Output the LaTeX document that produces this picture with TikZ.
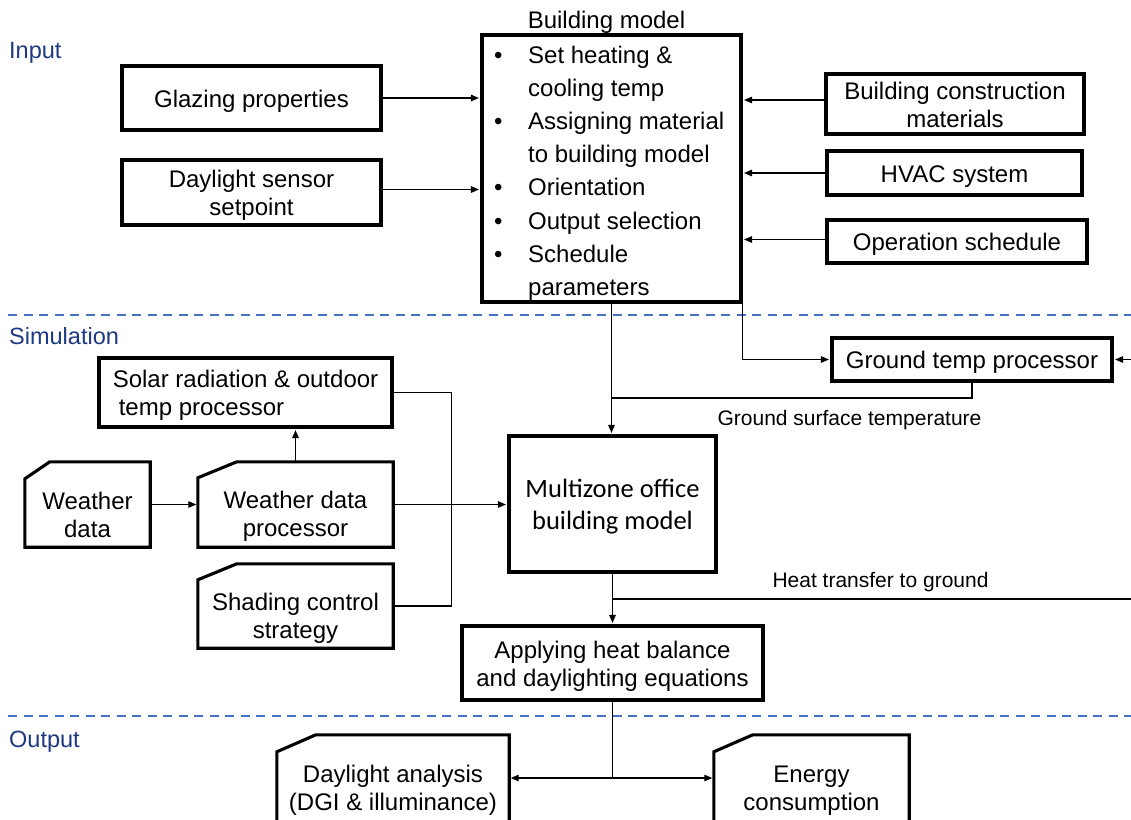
\documentclass[tikz,border=0pt]{standalone}
\usepackage{fontspec}
\setmainfont{Liberation Sans}
\newfontfamily\calibrifont{Carlito}
\usetikzlibrary{arrows.meta,calc}
\definecolor{secblue}{RGB}{31,56,130}
\definecolor{dashblue}{RGB}{68,114,196}
\newcommand{\bmbullet}{\llap{\makebox[34pt][l]{•}}}
\newcommand{\boxlines}[2][c]{\raisebox{-3.5pt}[\height][\depth]{\begin{tabular}{@{}#1@{}}#2\end{tabular}}}
\tikzset{
  bodytext/.style={inner sep=0pt, align=center, font=\fontsize{24}{28}\selectfont},
  box/.style={bodytext, draw, line width=3.1pt},
  docnode/.style={inner sep=0pt},
  docline/.style={line width=3.1pt, line join=miter},
  conn/.style={line width=1.3pt},
  arr/.style={conn, -{Triangle[length=8pt,width=6.5pt]}, shorten >=1.5pt},
  seclabel/.style={anchor=base west, inner sep=0pt, text=secblue, font=\fontsize{23.5}{28}\selectfont},
  flowlabel/.style={anchor=base, inner sep=0pt, font=\fontsize{21}{25}\selectfont},
  sepline/.style={dashblue, line width=2.5pt, dash pattern=on 9pt off 6.5pt},
}
\begin{document}
\begin{tikzpicture}[x=1pt,y=-1pt]
\useasboundingbox (0,0) rectangle (1131,819);
\fill[white] (0,0) rectangle (1131,819);
\clip (0,0) rectangle (1131,819);

% section labels and separators
\node[seclabel] (lin) at (9,58) {Input};
\node[seclabel] (lsim) at (9,344) {Simulation};
\node[seclabel] (lout) at (9,747) {Output};
\draw[sepline] (8,315) -- (1131,315);
\draw[sepline] (8,716) -- (1131,716);

% ---------------- Input ----------------
\node[box, minimum width=259pt, minimum height=64pt] (glazing) at (251.5,98) {\boxlines{Glazing properties}};
\node[box, minimum width=259pt, minimum height=65pt] (daysens) at (251.5,192.5) {\boxlines{Daylight sensor\\setpoint}};

\node[box, minimum width=259pt, minimum height=267pt] (bmodel) at (611.5,168.5) {};
\node[anchor=base, inner sep=0pt, font=\fontsize{24}{28}\selectfont] (bmtitle) at (606.5,28) {Building model};
\node[anchor=north west, inner sep=0pt, align=left, font=\fontsize{24}{33.1}\selectfont] (bmtext) at (528,46) {\bmbullet Set heating \&\\cooling temp\\\bmbullet Assigning material\\to building model\\\bmbullet Orientation\\\bmbullet Output selection\\\bmbullet Schedule\\parameters};

\node[box, minimum width=258pt, minimum height=60pt] (bcm) at (955,104) {\boxlines{Building construction\\materials}};
\node[box, minimum width=255pt, minimum height=44pt] (hvac) at (954.5,173) {\boxlines{HVAC system}};
\node[box, minimum width=260pt, minimum height=43pt] (opsch) at (957,241.5) {\boxlines{Operation schedule}};

\draw[arr] (glazing.east) -- (glazing.east -| bmodel.west);
\draw[arr] ([yshift=3pt]daysens.east) -- ([yshift=3pt]daysens.east -| bmodel.west);
\draw[arr] ([yshift=4pt]bcm.west) -- ([yshift=4pt]bcm.west -| bmodel.east);
\draw[arr] (hvac.west) -- (hvac.west -| bmodel.east);
\draw[arr] ([yshift=2pt]opsch.west) -- ([yshift=2pt]opsch.west -| bmodel.east);

% ---------------- Simulation ----------------
\node[box, minimum width=280pt, minimum height=43pt] (gtp) at (972,359.5) {\boxlines{Ground temp processor}};
\node[box, minimum width=293pt, minimum height=69pt] (solar) at (245.5,392.5) {\boxlines[l]{Solar radiation \& outdoor\\\hspace*{6pt}temp processor}};

\node[docnode, minimum width=125pt, minimum height=85pt] (wdata) at (87.5,504.5) {};
\node[bodytext] (wdatat) at (87.5,515) {Weather\\data};
\draw[docline] ([yshift=-17pt]wdata.north west) -- ([xshift=25pt]wdata.north west) -- (wdata.north east) -- (wdata.south east) -- (wdata.south west) -- cycle;

\node[docnode, minimum width=195pt, minimum height=85pt] (wproc) at (295.5,504.5) {};
\node[bodytext] (wproct) at (295.5,516.5) {Weather data\\processor};
\draw[docline] ([yshift=-16pt]wproc.north west) -- ([xshift=39pt]wproc.north west) -- (wproc.north east) -- (wproc.south east) -- (wproc.south west) -- cycle;

\node[docnode, minimum width=195pt, minimum height=84pt] (shading) at (295.5,606) {};
\node[bodytext] (shadingt) at (295.5,618) {Shading control\\strategy};
\draw[docline] ([yshift=-16pt]shading.north west) -- ([xshift=39pt]shading.north west) -- (shading.north east) -- (shading.south east) -- (shading.south west) -- cycle;

\node[box, minimum width=207pt, minimum height=136pt, font=\calibrifont\fontsize{26.5}{32}\selectfont] (multi) at (612.5,504) {\boxlines{Multizone office\\building model}};

\draw[arr] (wdata.east) -- (wproc.west);
\draw[arr] (wproc.north) -- (wproc.north |- solar.south);
\draw[arr] (wproc.east) -- (wproc.east -| multi.west);
\draw[conn] (solar.east) -- ++(58,0) |- (shading.east);

\draw[arr] (bmodel.south) -- (bmodel.south |- multi.north);
\draw[arr] (bmodel.south east) |- (gtp.west);
\coordinate (gtpin) at (1131,359.5);
\draw[arr] (gtpin) -- (gtp.east);
\coordinate (gsj) at (611.5,398);
\draw[conn] (gtp.south) |- (gsj);
\node[flowlabel] (gstlabel) at (849.5,425) {Ground surface temperature};

\node[box, minimum width=301pt, minimum height=74pt] (apply) at (612.5,663) {\boxlines{Applying heat balance\\and daylighting equations}};
\draw[arr] (multi.south) -- (apply.north);
\coordinate (htin) at (1131,599);
\draw[conn] (htin) -- (htin -| multi.south);
\node[flowlabel] (htlabel) at (880.5,587) {Heat transfer to ground};

% ---------------- Output ----------------
\node[docnode, minimum width=232pt, minimum height=105pt] (dla) at (393,787.5) {};
\node[bodytext] (dlat) at (393,790) {Daylight analysis\\(DGI \& illuminance)};
\draw[docline] ([yshift=-17pt]dla.north west) -- ([xshift=39pt]dla.north west) -- (dla.north east) -- (dla.south east) -- (dla.south west) -- cycle;

\node[docnode, minimum width=195pt, minimum height=105pt] (energy) at (811.5,787.5) {};
\node[bodytext] (energyt) at (811.5,791) {Energy\\consumption};
\draw[docline] ([yshift=-17pt]energy.north west) -- ([xshift=39pt]energy.north west) -- (energy.north east) -- (energy.south east) -- (energy.south west) -- cycle;

\coordinate (oj) at (612.5,778);
\draw[conn] (apply.south) -- (oj);
\draw[arr] (oj) -- (oj -| dla.east);
\draw[arr] (oj) -- (oj -| energy.west);
\end{tikzpicture}
\end{document}
